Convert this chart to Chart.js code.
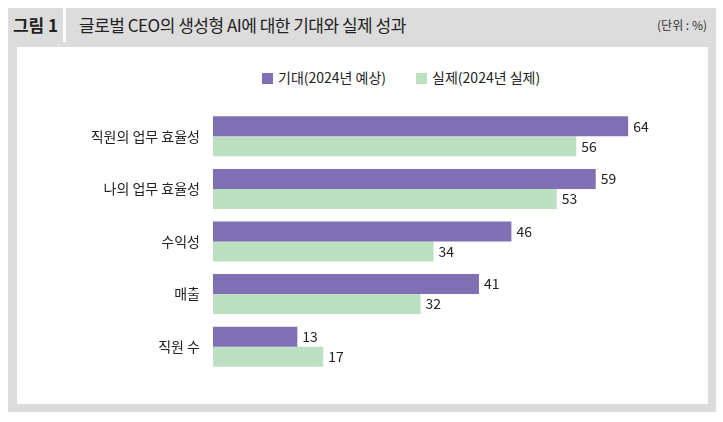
<!DOCTYPE html><html><head><meta charset="utf-8">
<script src="https://cdn.jsdelivr.net/npm/chart.js@4"></script>
<style>
body{margin:0;width:723px;height:422px;background:#fff;font-family:"Noto Sans CJK KR",sans-serif;position:relative;overflow:hidden}
#frame{position:absolute;left:8px;top:8px;width:708px;height:404px;background:#dcdcdc}
#fig{position:absolute;left:8px;top:8px;width:55px;height:34px;line-height:34px;text-align:center;font-weight:bold;font-size:17px;color:#222}
#sep{position:absolute;left:63px;top:8px;width:3px;height:34px;background:#fff}
#title{position:absolute;left:79px;top:8px;height:34px;line-height:34px;font-size:17px;color:#222;letter-spacing:-0.5px}
#unit{position:absolute;right:16px;top:8px;height:34px;line-height:34px;font-size:12px;color:#333}
#panel{position:absolute;left:17px;top:47px;width:691px;height:357px;background:#fff}
#legend{position:absolute;top:67px;left:262px;font-size:14px;color:#222;white-space:nowrap}
#legend span.b{display:inline-block;width:11px;height:11px;margin-right:5px;vertical-align:-1px}
canvas{position:absolute;left:17px;top:47px}
</style></head><body>
<div id="frame"></div><div id="fig">그림 1</div><div id="sep"></div>
<div id="title">글로벌 CEO의 생성형 AI에 대한 기대와 실제 성과</div>
<div id="unit">(단위 : %)</div>
<div id="panel"></div>
<div id="legend"><span class="b" style="background:#7f70b3"></span>기대(2024년 예상)<span style="display:inline-block;width:30px"></span><span class="b" style="background:#bde0c3"></span>실제(2024년 실제)</div>
<canvas id="c" width="691" height="357"></canvas>
<script>
const categories=["직원의 업무 효율성","나의 업무 효율성","수익성","매출","직원 수"];
const expected=[64,59,46,41,13];
const actual=[56,53,34,32,17];
const labelPlugin={id:'lbl',afterDatasetsDraw(ch){const ctx=ch.ctx;ctx.save();ctx.font='14px "Noto Sans CJK KR", sans-serif';ctx.fillStyle='#222';ctx.textBaseline='middle';
ch.data.datasets.forEach((d,i)=>{ch.getDatasetMeta(i).data.forEach((b,j)=>{ctx.fillText(d.data[j],b.x+5,b.y);});});ctx.restore();}};
new Chart(document.getElementById('c'),{type:'bar',
data:{labels:categories,datasets:[
{label:'기대(2024년 예상)',data:expected,backgroundColor:'#7f70b3',categoryPercentage:0.76,barPercentage:1},
{label:'실제(2024년 실제)',data:actual,backgroundColor:'#bde0c3',categoryPercentage:0.76,barPercentage:1}]},
options:{indexAxis:'y',responsive:false,animation:false,
layout:{padding:{top:63,bottom:31,right:2,left:0}},
plugins:{legend:{display:false},tooltip:{enabled:false}},
scales:{x:{min:0,max:76,display:false},
y:{grid:{display:false},border:{display:false},afterFit(s){s.width=196;},
ticks:{color:'#222',font:{size:14,family:'"Noto Sans CJK KR", sans-serif'},padding:5}}}},
plugins:[labelPlugin]});
</script></body></html>
